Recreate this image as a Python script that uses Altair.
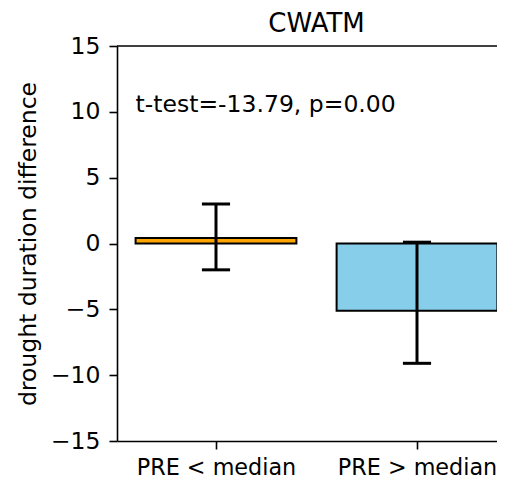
import json
import altair as alt
import pandas as pd

# ---- data ----
categories = ["PRE < median", "PRE > median"]
means = [0.42, -5.1]
err_low = [-2.0, -9.1]
err_high = [3.0, 0.1]
colors = ["#FFA500", "#87CEEB"]
title_text = "CWATM"
y_title = "drought duration difference"
annotation = "t-test=-13.79, p=0.00"
y_ticks = [-15, -10, -5, 0, 5, 10, 15]

df = pd.DataFrame({
    "idx": list(range(len(categories))),
    "cat": categories,
    "mean": means,
    "lo": err_low,
    "hi": err_high,
    "color": colors,
})

W, H = 380, 395
FONT = "DejaVu Sans"
FS = 23.5

xscale = alt.Scale(domain=[-0.4925, 1.398], nice=False, zero=False)
yscale = alt.Scale(domain=[-15, 15], nice=False, zero=False)

base = alt.Chart(df).transform_calculate(
    x0="datum.idx - 0.4",
    x1="datum.idx + 0.4",
    c0="datum.idx - 0.07",
    c1="datum.idx + 0.07",
    zero="0",
)

label_expr = f"{json.dumps(categories)}[datum.value]"

bars = base.mark_bar(stroke="black", strokeWidth=2).encode(
    x=alt.X("x0:Q", scale=xscale,
            axis=alt.Axis(values=[0, 1], labelExpr=label_expr, title=None,
                          grid=False, tickSize=8, tickWidth=1.6, tickColor="black",
                          domainColor="black", domainWidth=1.6,
                          labelFontSize=22.3, labelFont=FONT, labelColor="black",
                          labelPadding=7, labelAngle=0)),
    x2="x1:Q",
    y=alt.Y("zero:Q", scale=yscale,
            axis=alt.Axis(values=y_ticks, title=y_title, grid=False,
                          tickSize=8, tickWidth=1.6, tickColor="black",
                          domainColor="black", domainWidth=1.6,
                          labelFontSize=FS, labelFont=FONT, labelColor="black",
                          labelPadding=9,
                          titleFontSize=FS, titleFont=FONT, titleColor="black",
                          titleFontWeight="normal", titleAngle=270,
                          titleX=-82, titleY=H / 2, titleAlign="center",
                          titleBaseline="alphabetic")),
    y2="mean:Q",
    color=alt.Color("color:N", scale=None),
)

stems = base.mark_rule(color="black", strokeWidth=3).encode(
    x="idx:Q", y="lo:Q", y2="hi:Q"
)
cap_lo = base.mark_rule(color="black", strokeWidth=3).encode(
    x="c0:Q", x2="c1:Q", y="lo:Q"
)
cap_hi = base.mark_rule(color="black", strokeWidth=3).encode(
    x="c0:Q", x2="c1:Q", y="hi:Q"
)

text = alt.Chart(pd.DataFrame({"t": [annotation], "x": [-0.4], "y": [10]})).mark_text(
    align="left", baseline="alphabetic", fontSize=FS, font=FONT, color="black"
).encode(x="x:Q", y="y:Q", text="t:N")

top_spine = alt.Chart(pd.DataFrame({"v": [15]})).mark_rule(
    color="black", strokeWidth=1.6
).encode(y="v:Q")

chart = alt.layer(bars, stems, cap_lo, cap_hi, text, top_spine).properties(
    width=W, height=H,
    title=alt.TitleParams(title_text, fontSize=26, font=FONT, fontWeight="normal",
                          color="black", anchor="middle", dx=9.5, offset=-24,
                          baseline="alphabetic"),
    autosize=alt.AutoSizeParams(type="none"),
    padding={"left": 109, "top": 38, "right": 0, "bottom": 40},
).configure_view(stroke=None)

chart.save("out.html", embed_options={"renderer": "svg", "actions": False})
